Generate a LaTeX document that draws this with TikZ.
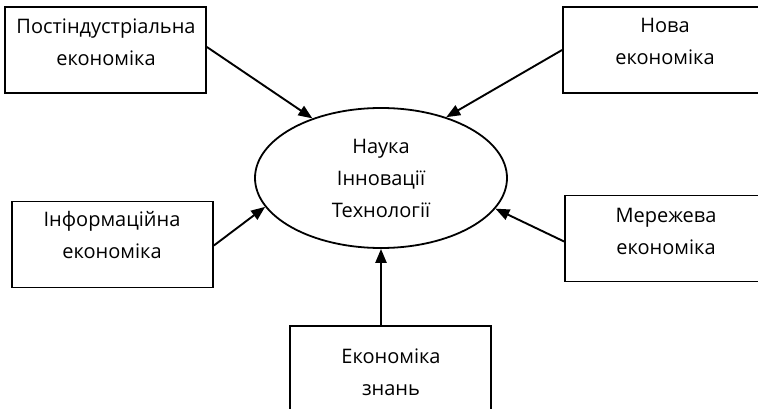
\documentclass[tikz,border=0pt]{standalone}
\usepackage{fontspec}
\setmainfont{Open Sans}
\usetikzlibrary{shapes.geometric,arrows.meta}
\tikzset{
  boxnode/.style={draw,line width=1.8pt,minimum width=201pt,minimum height=86pt,inner sep=0pt},
  txt/.style={align=center,inner sep=0pt,anchor=north,font=\fontsize{20}{32}\selectfont},
  arr/.style={line width=1.9pt,-{Triangle[length=14pt,width=11pt]}},
}
\begin{document}
\begin{tikzpicture}[x=1pt,y=-1pt]
\useasboundingbox (0,0) rectangle (758,409);
\clip (0,0) rectangle (758,409);
\node[boxnode] (b1) at (105.5,50) {};
\node[boxnode] (b2) at (663.5,50) {};
\node[boxnode] (b3) at (112.5,244.5) {};
\node[boxnode] (b4) at (665.5,238.5) {};
\node[boxnode,minimum height=90pt] (b5) at (390.5,371) {};
\node[txt] (t1) at (106,19) {Постіндустріальна\\економіка};
\node[txt] (t2) at (665,18) {Нова\\економіка};
\node[txt] (t3) at (112,211) {Інформаційна\\економіка};
\node[txt] (t4) at (666,208) {Мережева\\економіка};
\node[txt] (t5) at (391,349) {Економіка\\знань};
\node[draw,ellipse,line width=1.8pt,minimum width=252pt,minimum height=140pt,inner sep=0pt,
      align=center,font=\fontsize{20}{32}\selectfont] (ell) at (381,178) {Наука\\Інновації\\Технології};
\draw[arr] ([yshift=3pt]b1.east) -- (ell.139);
\draw[arr] (b2.west) -- (ell.43);
\draw[arr] ([yshift=-1pt]b3.east) -- (ell.194);
\draw[arr] ([yshift=-3pt]b4.west) -- (ell.345);
\draw[arr,line width=2.3pt] (ell.south |- b5.north) -- (ell.south);
\end{tikzpicture}
\end{document}
